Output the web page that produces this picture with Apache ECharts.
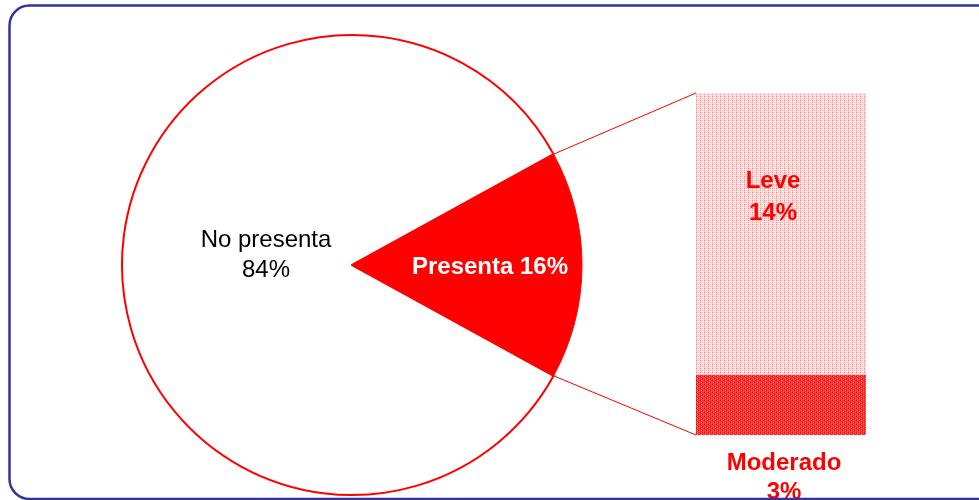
<!DOCTYPE html>
<html>
<head>
<meta charset="utf-8">
<script src="https://cdn.jsdelivr.net/npm/echarts@6/dist/echarts.min.js"></script>
<style>
  html, body { margin: 0; padding: 0; background: #fff; }
  #chart { width: 979px; height: 500px; }
</style>
</head>
<body>
<div id="chart"></div>
<script>
// Pie shares (percent)
const pieNames = ['Presenta', 'No presenta'];
const pieValues = [16, 84];
// Breakdown of "Presenta" (percent), bottom to top
const barNames = ['Moderado', 'Leve'];
const barValues = [3, 14];

const FONT = '"Liberation Sans", Arial, sans-serif';
const RED = '#ff0000';

// Small repeating tiles used as hatch fills for the breakdown column
function makeTile(base, dots) {
  const c = document.createElement('canvas');
  c.width = 4; c.height = 4;
  const g = c.getContext('2d');
  g.fillStyle = base;
  g.fillRect(0, 0, 4, 4);
  dots.forEach(([x, y, col]) => { g.fillStyle = col; g.fillRect(x, y, 1, 1); });
  return c;
}
const leveTile = makeTile('#ffeaea', [
  [0, 0, '#ff8a8a'], [0, 2, '#ffa0a0'], [2, 0, '#ffb8b8'], [2, 2, '#ffc0c0'],
  [0, 1, '#ffc8c8'], [0, 3, '#ffc8c8'], [1, 0, '#ffd4d4'], [3, 2, '#ffd4d4']
]);
const modTile = makeTile('#ff2c2c', [
  [1, 0, '#ff8c8c'], [1, 2, '#ff9a9a'], [3, 1, '#ff6a6a'], [3, 3, '#ff6a6a'],
  [0, 0, '#f20000'], [2, 2, '#f20000']
]);

const pieCenter = [352, 265];
const pieRadius = 230;
const sliceAngle = pieValues[0] / (pieValues[0] + pieValues[1]) * 360;
const barTotal = barValues.reduce((a, b) => a + b, 0);
const grid = { left: 696, top: 93, width: 170, height: 342 };

const chart = echarts.init(document.getElementById('chart'));
chart.setOption({
  animation: false,
  backgroundColor: '#fff',
  grid: { left: grid.left, top: grid.top, width: grid.width, height: grid.height },
  xAxis: { type: 'category', data: [''], show: false },
  yAxis: { type: 'value', min: 0, max: barTotal, show: false },
  series: [
    {
      type: 'pie',
      center: pieCenter,
      radius: pieRadius,
      startAngle: sliceAngle / 2,
      clockwise: true,
      label: { position: 'inside' },
      labelLine: { show: false },
      emphasis: { disabled: true },
      labelLayout: function (p) {
        return p.dataIndex === 0 ? { dx: 10, dy: 1 } : { dx: 16, dy: -5 };
      },
      data: [
        {
          name: pieNames[0], value: pieValues[0],
          itemStyle: { color: RED, borderColor: RED, borderWidth: 1 },
          label: {
            formatter: '{b} {c}%', color: '#fff', fontWeight: 'bold',
            fontSize: 24, fontFamily: FONT
          }
        },
        {
          name: pieNames[1], value: pieValues[1],
          itemStyle: { color: '#fff', borderColor: RED, borderWidth: 2 },
          label: {
            formatter: '{b}\n{c}%', color: '#000', fontSize: 24,
            lineHeight: 30, fontFamily: FONT
          }
        }
      ]
    },
    {
      type: 'bar',
      stack: 'breakdown',
      barWidth: '100%',
      data: [barValues[0]],
      itemStyle: { color: { image: modTile, repeat: 'repeat' } },
      label: {
        show: true, position: 'bottom', distance: 14, offset: [3, 0],
        formatter: barNames[0] + '\n{c}%',
        color: RED, fontWeight: 'bold', fontSize: 24, lineHeight: 29, fontFamily: FONT
      }
    },
    {
      type: 'bar',
      stack: 'breakdown',
      barWidth: '100%',
      data: [barValues[1]],
      itemStyle: { color: { image: leveTile, repeat: 'repeat' } },
      label: {
        show: true, position: 'inside', offset: [-8, -36],
        formatter: barNames[1] + '\n{c}%',
        color: RED, fontWeight: 'bold', fontSize: 24, lineHeight: 32, fontFamily: FONT
      }
    }
  ]
});

// Connector lines from the slice edges to the column corners, plus the frame
const a = sliceAngle / 2 * Math.PI / 180;
const topEdge = [pieCenter[0] + pieRadius * Math.cos(a), pieCenter[1] - pieRadius * Math.sin(a)];
const botEdge = [pieCenter[0] + pieRadius * Math.cos(a), pieCenter[1] + pieRadius * Math.sin(a)];
const colTop = chart.convertToPixel({ yAxisIndex: 0 }, barTotal);
const colBot = chart.convertToPixel({ yAxisIndex: 0 }, 0);

chart.setOption({
  graphic: [
    {
      type: 'line', z: 1,
      shape: { x1: topEdge[0], y1: topEdge[1], x2: grid.left, y2: colTop },
      style: { stroke: RED, lineWidth: 1 }
    },
    {
      type: 'line', z: 1,
      shape: { x1: botEdge[0], y1: botEdge[1], x2: grid.left, y2: colBot },
      style: { stroke: RED, lineWidth: 1 }
    },
    {
      type: 'rect', z: 100, silent: true,
      shape: { x: 9.5, y: 5.5, width: 990, height: 493.5, r: 20 },
      style: { fill: 'none', stroke: '#333399', lineWidth: 2.5 }
    }
  ]
});
</script>
</body>
</html>
